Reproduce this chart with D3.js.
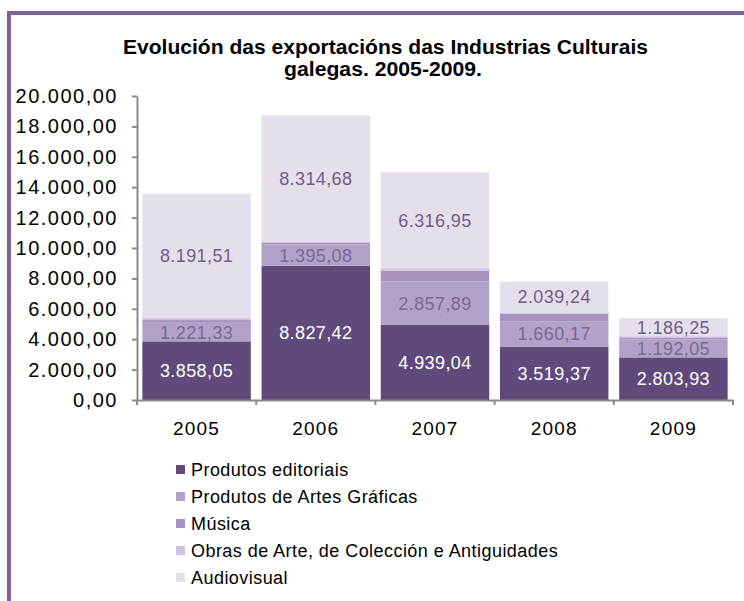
<!DOCTYPE html>
<html><head><meta charset="utf-8">
<script src="https://cdn.jsdelivr.net/npm/d3@7"></script>
<style>
html,body{margin:0;padding:0;background:#fff;}
svg{display:block;font-family:"Liberation Sans",Arial,sans-serif;}
</style></head>
<body>
<svg id="chart" width="744" height="601"></svg>
<script>
const years = ["2005","2006","2007","2008","2009"];
const seriesNames = ["Produtos editoriais","Produtos de Artes Gráficas","Música","Obras de Arte, de Colección e Antiguidades","Audiovisual"];
const editoriais  = [3858.05, 8827.42, 4939.04, 3519.37, 2803.93];
const artes       = [1221.33, 1395.08, 2857.89, 1660.17, 1192.05];
const musica      = [180, 140, 720, 480, 120];
const obras       = [130, 50, 150, 100, 80];
const audiovisual = [8191.51, 8314.68, 6316.95, 2039.24, 1186.25];
const yTicks = [0,2000,4000,6000,8000,10000,12000,14000,16000,18000,20000];
const titleLines = ["Evolución das exportacións das Industrias Culturais","galegas. 2005-2009."];

const keys = ["editoriais","artes","musica","obras","audiovisual"];
const colors = ["#5f4a7b","#b2a2c9","#a792bf","#cdc3dd","#e5dfec"];
const labelColors = {editoriais:"#ffffff", artes:"#7a6992", audiovisual:"#6f5e89"};
const table = years.map((y,i)=>({year:y, editoriais:editoriais[i], artes:artes[i], musica:musica[i], obras:obras[i], audiovisual:audiovisual[i]}));

const loc = d3.formatLocale({decimal:",", thousands:".", grouping:[3], currency:["",""]});
const fmt = loc.format(",.2f");

const svg = d3.select("#chart");
// frame
svg.append("rect").attr("x",7).attr("y",11).attr("width",737).attr("height",4).attr("fill","#7b6596");
svg.append("rect").attr("x",7).attr("y",11).attr("width",4).attr("height",590).attr("fill","#7b6596");

// title
const tl = [{t:titleLines[0], x:123, y:54, w:525},{t:titleLines[1], x:284, y:76, w:198}];
svg.selectAll("text.title").data(tl).join("text").attr("class","title")
  .attr("x",d=>d.x).attr("y",d=>d.y).attr("textLength",d=>d.w).attr("lengthAdjust","spacingAndGlyphs")
  .attr("font-size",20).attr("font-weight","bold").attr("fill","#000").text(d=>d.t);

const x = d3.scaleBand().domain(years).range([137,733]).paddingInner(0.09).paddingOuter(0.045);
const y = d3.scaleLinear().domain([0,20000]).range([400,96]);

const stack = d3.stack().keys(keys)(table);
const g = svg.append("g");
g.selectAll("g.s").data(stack).join("g").attr("class","s").attr("fill",(d,i)=>colors[i])
  .selectAll("rect").data(d=>d).join("rect")
  .attr("x",d=>x(d.data.year)).attr("width",x.bandwidth())
  .attr("y",d=>y(d[1])).attr("height",d=>y(d[0])-y(d[1]));

// value labels
stack.forEach(s=>{
  if(!labelColors[s.key]) return;
  g.selectAll(null).data(s).join("text")
    .attr("x",d=>x(d.data.year)+x.bandwidth()/2)
    .attr("y",d=>(y(d[0])+y(d[1]))/2)
    .attr("dy","0.36em").attr("text-anchor","middle")
    .attr("font-size",18).attr("letter-spacing",0.4).attr("fill",labelColors[s.key])
    .text(d=>fmt(d.data[s.key]));
});

// y axis
const ya = svg.append("g").attr("transform","translate(137,0)")
  .call(d3.axisLeft(y).tickValues(yTicks).tickSize(5).tickSizeOuter(0).tickPadding(14).tickFormat(fmt));
ya.select(".domain").attr("stroke","#8a8a8a").attr("stroke-width",2);
ya.selectAll(".tick line").attr("stroke","#8a8a8a").attr("stroke-width",2);
ya.selectAll(".tick text").attr("font-size",20).attr("letter-spacing",1.5).attr("fill","#000")
  .attr("font-family","'Liberation Sans',Arial,sans-serif");

// x axis
const xa = svg.append("g").attr("transform","translate(0,400)")
  .call(d3.axisBottom(x).tickSize(0).tickSizeOuter(0).tickPadding(22));
xa.select(".domain").attr("stroke","#8a8a8a").attr("stroke-width",2);
xa.selectAll(".tick text").attr("font-size",19).attr("letter-spacing",1.2).attr("fill","#000")
  .attr("font-family","'Liberation Sans',Arial,sans-serif");
const bounds = years.map(d=>x(d)-x.step()*x.paddingInner()/2).concat([x.range()[1]]);
bounds[0] = x.range()[0];
xa.selectAll("line.b").data(bounds).join("line").attr("class","b")
  .attr("x1",d=>d).attr("x2",d=>d).attr("y1",0).attr("y2",5)
  .attr("stroke","#8a8a8a").attr("stroke-width",2);

// legend
const lg = svg.append("g").attr("transform","translate(176,0)");
const rowY = d3.scalePoint().domain(seriesNames).range([470,578]);
lg.selectAll("rect").data(seriesNames).join("rect")
  .attr("x",0).attr("y",d=>rowY(d)-5).attr("width",9).attr("height",9).attr("fill",(d,i)=>colors[i]);
lg.selectAll("text").data(seriesNames).join("text")
  .attr("x",15).attr("y",d=>rowY(d)).attr("dy","0.36em")
  .attr("font-size",18).attr("letter-spacing",0.45).attr("fill","#000").text(d=>d);
</script>
</body></html>
